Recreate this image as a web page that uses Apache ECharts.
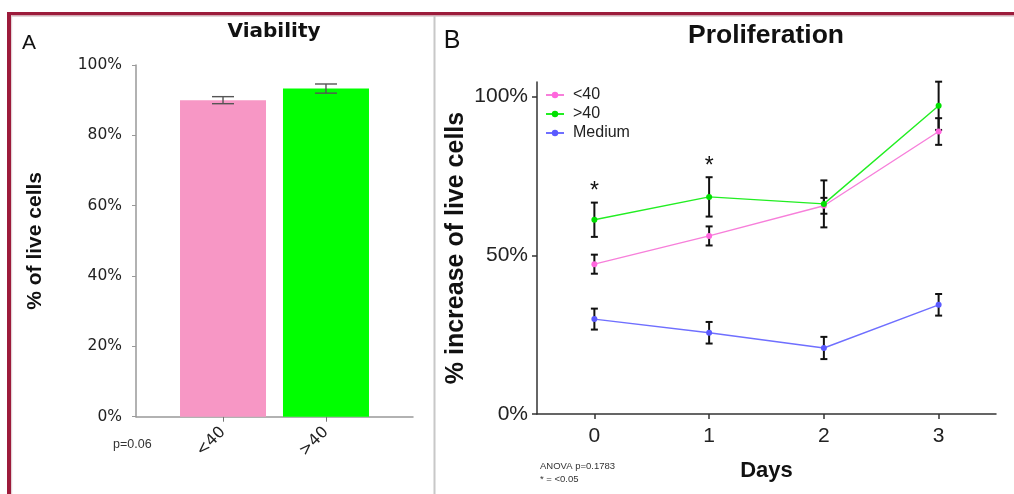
<!DOCTYPE html>
<html><head><meta charset="utf-8">
<script src="https://cdn.jsdelivr.net/npm/echarts@6/dist/echarts.min.js"></script>
<style>html,body{margin:0;padding:0;background:#fff}#c{width:1014px;height:494px}</style>
</head><body><div id="c"></div>
<script>
// ---- Panel A: Viability ----
const viabilityCategories = ['<40', '>40'];
const viabilityMean = [90.0, 93.3];
const viabilityErr = [1.0, 1.3];
const viabilityTicks = [0, 20, 40, 60, 80, 100];
// ---- Panel B: Proliferation ----
const days = [0, 1, 2, 3];
const seriesNames = ['<40', '>40', 'Medium'];
const prolifLow = [47.2, 56.1, 65.6, 89.0];
const prolifLowErr = [3.0, 3.0, 2.5, 4.2];
const prolifHigh = [61.2, 68.4, 66.2, 97.1];
const prolifHighErr = [5.4, 6.2, 7.4, 7.6];
const prolifMedium = [29.9, 25.6, 20.8, 34.4];
const prolifMediumErr = [3.3, 3.4, 3.5, 3.4];
const significance = ['*', '*', '', ''];
const prolifTicks = [0, 50, 100];

const FONT = 'Liberation Sans, Arial, sans-serif';
const FONT_A = 'DejaVu Sans, Liberation Sans, sans-serif';
const barColors = ['#F797C5', '#00FF00'];
const lineColors = ['#F77FDA', '#22EE22', '#6F6FFF'];
const markColors = ['#FF66DD', '#00E000', '#5A5AFF'];

function errorBarItem(capHalf, color, width) {
  return function (params, api) {
    const x = api.value(0), y = api.value(1), e = api.value(2);
    const hi = api.coord([x, y + e]), lo = api.coord([x, y - e]);
    const mk = (x1, y1, x2, y2) => ({ type: 'line', shape: { x1, y1, x2, y2 }, style: { stroke: color, lineWidth: width } });
    return { type: 'group', children: [
      mk(hi[0], hi[1], lo[0], lo[1]),
      mk(hi[0] - capHalf, hi[1], hi[0] + capHalf, hi[1]),
      mk(lo[0] - capHalf, lo[1], lo[0] + capHalf, lo[1])
    ] };
  };
}

const viabilityBars = viabilityMean.map((v, i) => ({ value: [i, v], itemStyle: { color: barColors[i] } }));
const viabilityErrData = viabilityMean.map((v, i) => [i, v, viabilityErr[i]]);

const prolifSets = [
  [prolifLow, prolifLowErr],
  [prolifHigh, prolifHighErr],
  [prolifMedium, prolifMediumErr]
];

const lineSeries = prolifSets.map((s, k) => ({
  name: seriesNames[k], type: 'line', xAxisIndex: 1, yAxisIndex: 1,
  data: days.map((d, i) => [d, s[0][i]]),
  symbol: 'circle', symbolSize: 6, z: 3,
  lineStyle: { color: lineColors[k], width: 1.4 },
  itemStyle: { color: markColors[k] },
  emphasis: { disabled: true }
}));

const errSeries = prolifSets.map((s, k) => ({
  type: 'custom', xAxisIndex: 1, yAxisIndex: 1, z: 1,
  data: days.map((d, i) => [d, s[0][i], s[1][i]]),
  renderItem: errorBarItem(3.5, '#111', 2)
}));

const sigSeries = {
  type: 'custom', xAxisIndex: 1, yAxisIndex: 1, z: 4,
  data: days.map((d, i) => [d, prolifHigh[i], prolifHighErr[i]]),
  renderItem: function (params, api) {
    const i = params.dataIndex;
    const p = api.coord([api.value(0), api.value(1) + api.value(2)]);
    return { type: 'text', style: { text: significance[i], x: p[0], y: p[1] - 11, align: 'center', verticalAlign: 'middle',
      font: '23px ' + FONT, fill: '#111' } };
  }
};

const chart = echarts.init(document.getElementById('c'), null, { renderer: 'canvas' });
chart.setOption({
  backgroundColor: '#fff',
  animation: false,
  grid: [
    { left: 136, right: 601, top: 65, bottom: 77.3 },
    { left: 537, right: 18, top: 82, bottom: 80 }
  ],
  xAxis: [
    { type: 'value', gridIndex: 0, min: -0.845, max: 1.845,
      splitLine: { show: false },
      axisLine: { onZero: false, lineStyle: { color: '#999', width: 1.5 } },
      axisTick: { customValues: [0, 1], length: 5, lineStyle: { color: '#777' } },
      axisLabel: { customValues: [0, 1], rotate: 45, margin: 13, fontSize: 16, color: '#222', fontFamily: FONT_A,
        formatter: v => viabilityCategories[Math.round(v)] } },
    { type: 'value', gridIndex: 1, min: -0.5, max: 3.5,
      name: 'Days', nameLocation: 'middle', nameGap: 46,
      nameTextStyle: { fontSize: 22, fontWeight: 'bold', color: '#111', fontFamily: FONT },
      splitLine: { show: false },
      axisLine: { onZero: false, lineStyle: { color: '#333', width: 1.5 } },
      axisTick: { customValues: days, length: 5, lineStyle: { color: '#333', width: 1.5 } },
      axisLabel: { customValues: days, margin: 12, fontSize: 21, color: '#222', fontFamily: FONT } }
  ],
  yAxis: [
    { type: 'value', gridIndex: 0, min: 0, max: 100, interval: 20,
      name: '% of live cells', nameLocation: 'middle', nameGap: 90,
      nameTextStyle: { fontSize: 21, fontWeight: 'bold', color: '#111', fontFamily: FONT },
      splitLine: { show: false },
      axisLine: { show: true, onZero: false, lineStyle: { color: '#999', width: 1.5 } },
      axisTick: { show: true, length: 4, lineStyle: { color: '#999' } },
      axisLabel: { margin: 14, fontSize: 15.5, color: '#222', fontFamily: FONT_A, formatter: '{value}%' } },
    { type: 'value', gridIndex: 1, min: 0, max: 104.6,
      name: '% increase of live cells', nameLocation: 'middle', nameGap: 68,
      nameTextStyle: { fontSize: 25, fontWeight: 'bold', color: '#111', fontFamily: FONT },
      splitLine: { show: false },
      axisLine: { show: true, onZero: false, lineStyle: { color: '#333', width: 1.5 } },
      axisTick: { show: true, customValues: prolifTicks, length: 5, lineStyle: { color: '#333', width: 1.5 } },
      axisLabel: { customValues: prolifTicks, margin: 9, fontSize: 21, color: '#222', fontFamily: FONT, formatter: '{value}%' } }
  ],
  legend: {
    data: seriesNames, orient: 'vertical', left: 545, top: 87, padding: 0,
    itemWidth: 18, itemHeight: 8, itemGap: 3,
    textStyle: { fontSize: 16, color: '#222', fontFamily: FONT, lineHeight: 16, padding: [0, 0, 0, 4] }
  },
  graphic: [
    { type: 'rect', shape: { x: 7, y: 12, width: 1007, height: 3.5 }, style: { fill: '#9C1B3B' } },
    { type: 'rect', shape: { x: 7, y: 12, width: 4, height: 482 }, style: { fill: '#9C1B3B' } },
    { type: 'rect', shape: { x: 11, y: 15.5, width: 1003, height: 1.2 }, style: { fill: '#D9C8CC' } },
    { type: 'rect', shape: { x: 11, y: 15.5, width: 1.2, height: 479 }, style: { fill: '#E3D3D6' } },
    { type: 'rect', shape: { x: 433.5, y: 16, width: 2, height: 478 }, style: { fill: '#C8C8C8' } },
    { type: 'text', style: { text: 'A', x: 29, y: 43, align: 'center', verticalAlign: 'middle', font: '21px ' + FONT, fill: '#111' } },
    { type: 'text', style: { text: 'Viability', x: 274, y: 32, align: 'center', verticalAlign: 'middle', font: 'bold 20px ' + FONT_A, fill: '#111' } },
    { type: 'text', style: { text: 'p=0.06', x: 113, y: 445, align: 'left', verticalAlign: 'middle', font: '12.5px ' + FONT, fill: '#333' } },
    { type: 'text', style: { text: 'B', x: 452, y: 41, align: 'center', verticalAlign: 'middle', font: '25px ' + FONT, fill: '#111' } },
    { type: 'text', style: { text: 'Proliferation', x: 766, y: 36, align: 'center', verticalAlign: 'middle', font: 'bold 26.5px ' + FONT, fill: '#111' } },
    { type: 'text', style: { text: 'ANOVA p=0.1783', x: 540, y: 466, align: 'left', verticalAlign: 'middle', font: '9.5px ' + FONT, fill: '#333' } },
    { type: 'text', style: { text: '* = <0.05', x: 540, y: 479, align: 'left', verticalAlign: 'middle', font: '9.5px ' + FONT, fill: '#333' } }
  ],
  series: [
    { type: 'bar', xAxisIndex: 0, yAxisIndex: 0, data: viabilityBars, barWidth: 86, z: 2, emphasis: { disabled: true } },
    { type: 'custom', xAxisIndex: 0, yAxisIndex: 0, z: 3, data: viabilityErrData, renderItem: errorBarItem(11, '#555', 1.4) },
    ...errSeries,
    ...lineSeries,
    sigSeries
  ]
});
</script>
</body></html>
